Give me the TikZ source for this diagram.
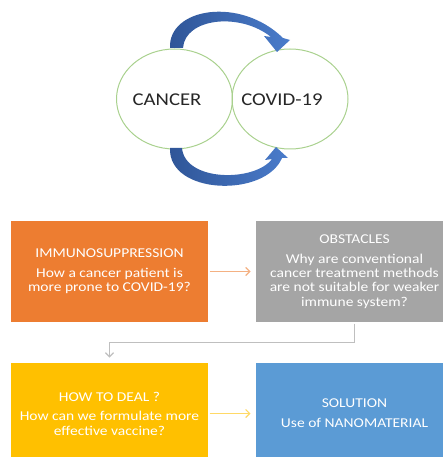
\documentclass[tikz,border=0pt]{standalone}
\usepackage{fontspec}
\setmainfont{Carlito}[FakeStretch=1.15]
\usetikzlibrary{shapes.geometric,arrows.meta}

\definecolor{boxorange}{HTML}{ED7D31}
\definecolor{boxgray}{HTML}{A5A5A5}
\definecolor{boxyellow}{HTML}{FFC000}
\definecolor{boxblue}{HTML}{5B9BD5}
\definecolor{circgreen}{HTML}{A9D18E}
\definecolor{arrowdark}{HTML}{2F5597}
\definecolor{arrowlight}{HTML}{4A7CCB}
\definecolor{linkorange}{HTML}{F4B183}
\definecolor{linkgray}{HTML}{BFBFBF}
\definecolor{linkyellow}{HTML}{FFD966}
\definecolor{textdark}{HTML}{262626}

\begin{document}
\begin{tikzpicture}[x=1pt, y=-1pt, line width=1pt,
  round/.style={ellipse, draw=circgreen, minimum width=116pt, minimum height=100pt, inner sep=0pt},
  box/.style={rectangle, minimum width=197pt, minimum height=101pt, inner sep=0pt, text=white, align=center, font=\fontsize{13.5}{14.3}\selectfont},
  link/.style={-{Straight Barb[length=4pt,width=8pt]}, line width=1.2pt, shorten >=5pt, shorten <=1pt}]

\useasboundingbox (0,0) rectangle (443,457);

% Draw the two circles
\node[round] (cancer) at (174.5,99) {};
\node[round] (covid) at (290,99) {};
\node[text=textdark, font=\fontsize{18}{20}\selectfont] (cancerlabel) at (167,100) {CANCER};
\node[text=textdark, font=\fontsize{18}{20}\selectfont] (covidlabel) at (282,100) {COVID-19};

% Draw curved arrows between the circles
\shade[left color=arrowdark, right color=arrowlight] (170,48) .. controls (168,8) and (240,-4) .. (283,38) -- (290,40) -- (277,52) -- (264,36) -- (271,37) .. controls (240,12) and (185,18) .. (183,48) -- cycle;
\shade[left color=arrowdark, right color=arrowlight] (170,148) .. controls (168,195) and (265,198) .. (282,158) -- (288,158) -- (276,147) -- (265,160) -- (272,159) .. controls (255,182) and (185,182) .. (182,148) -- cycle;

% Draw the boxes
\node[box, fill=boxorange] (immuno) at (109.5,271.5) {IMMUNOSUPPRESSION\\[5.5pt]How a cancer patient is\\more prone to COVID-19?};
\node[box, fill=boxgray] (obstacles) at (354.5,271.5) {OBSTACLES\\[5.5pt]Why are conventional\\cancer treatment methods\\are not suitable for weaker\\immune system?};
\node[box, fill=boxyellow] (deal) at (109.5,413.5) {HOW TO DEAL ?\\[5.5pt]How can we formulate more\\effective vaccine?};
\node[box, fill=boxblue] (solution) at (354.5,413.5) {SOLUTION\\[5.5pt]Use of NANOMATERIAL};

% Draw connectors
\draw[link, draw=linkorange] (immuno) -- (obstacles);
\draw[link, draw=linkgray] (obstacles.south) -- ++(0,20) -| (deal.north);
\draw[link, draw=linkyellow] (deal) -- (solution);

\end{tikzpicture}
\end{document}
